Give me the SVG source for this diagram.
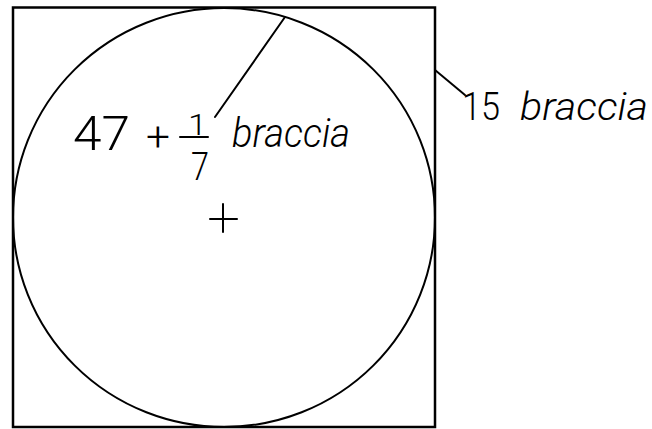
<svg xmlns="http://www.w3.org/2000/svg" width="652" height="429" viewBox="0 0 652 429">
  <style>
    .ln { fill: none; stroke: #000; stroke-linecap: round; }
    .t { font-family: Roboto, "Liberation Sans", sans-serif; font-weight: 300; fill: #000; }
    .it { font-style: italic; }
  </style>
  <rect x="0" y="0" width="652" height="429" fill="#fff"/>
  <g id="square">
    <rect class="ln" x="13" y="7.5" width="422" height="419.5" stroke-width="2.5"/>
  </g>
  <g id="circle">
    <ellipse class="ln" cx="224" cy="217.5" rx="211" ry="209.5" stroke-width="2"/>
  </g>
  <g id="centre">
    <line class="ln" x1="210" y1="219" x2="237" y2="219" stroke-width="2"/>
    <line class="ln" x1="223" y1="204" x2="223" y2="232" stroke-width="2"/>
  </g>
  <g id="connectors">
    <line class="ln" x1="285" y1="17" x2="215" y2="117" stroke-width="2"/>
    <line class="ln" x1="435" y1="70" x2="465" y2="95" stroke-width="2"/>
  </g>
  <g id="label-circumference">
    <text class="t" x="73" y="150" font-size="48" textLength="57" lengthAdjust="spacingAndGlyphs">47</text>
    <text class="t" x="146" y="151" font-size="40" textLength="24" lengthAdjust="spacingAndGlyphs">+</text>
    <text class="t" x="188" y="135" font-size="30" textLength="19" lengthAdjust="spacingAndGlyphs">1</text>
    <line class="ln" x1="180" y1="137" x2="208" y2="137" stroke-width="2"/>
    <text class="t" x="191" y="180" font-size="39" textLength="18" lengthAdjust="spacingAndGlyphs">7</text>
    <text class="t it" x="232" y="147" font-size="40" textLength="118" lengthAdjust="spacingAndGlyphs">braccia</text>
  </g>
  <g id="label-side">
    <text class="t" x="462" y="120" font-size="38" textLength="38" lengthAdjust="spacingAndGlyphs">15</text>
    <text class="t it" x="520" y="120" font-size="38" textLength="128" lengthAdjust="spacingAndGlyphs">braccia</text>
  </g>
</svg>
